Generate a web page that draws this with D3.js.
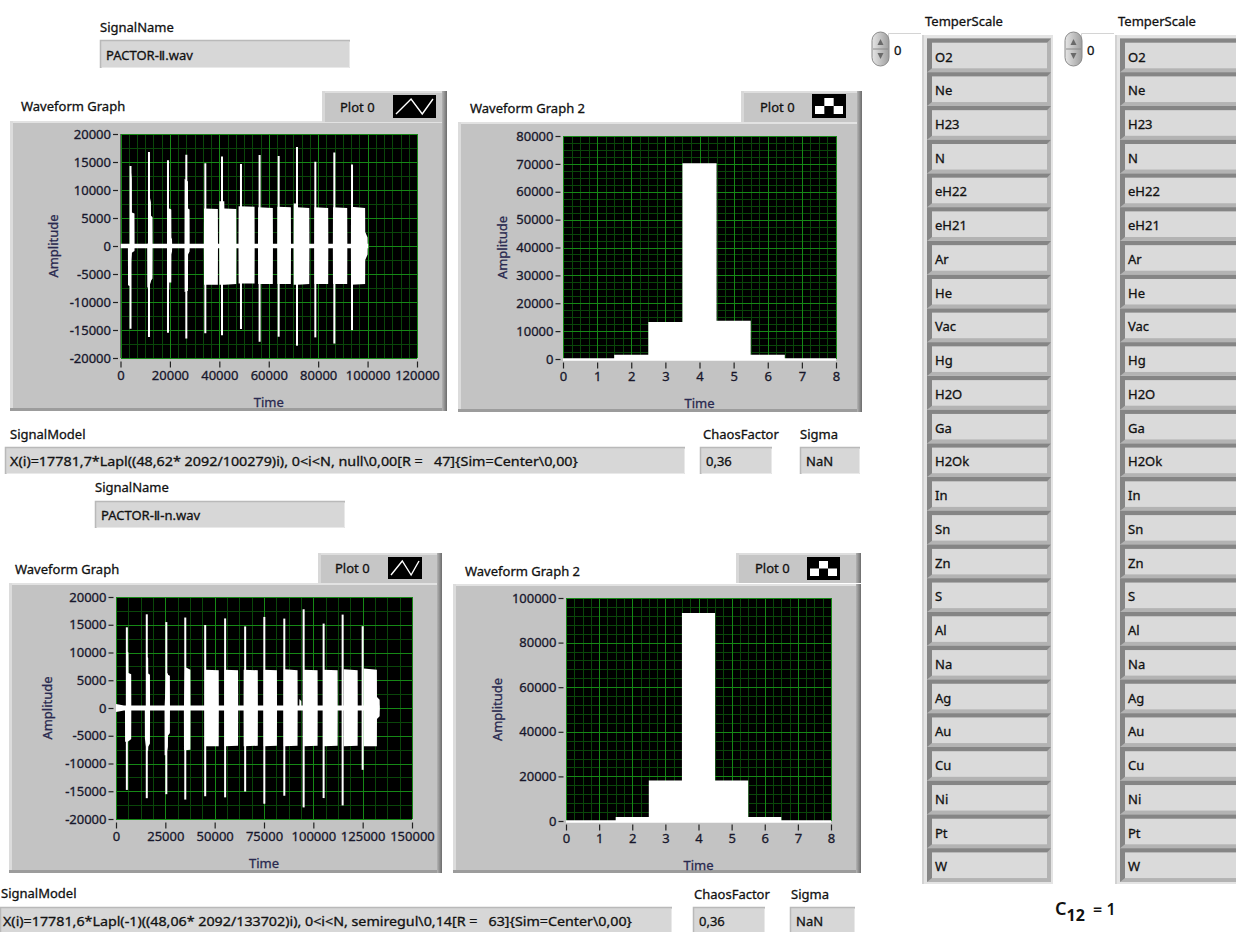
<!DOCTYPE html>
<html><head><meta charset="utf-8">
<script src="https://cdn.jsdelivr.net/npm/d3@7/dist/d3.min.js"></script>
<style>
html,body{margin:0;padding:0;background:#fff;overflow:hidden}
svg{display:block}
text{font-family:"Noto Sans","Open Sans","DejaVu Sans",sans-serif;}
text.ink{stroke:currentColor;stroke-width:0.3px;paint-order:stroke}
</style></head><body>
<svg id="panel" width="1236" height="932"></svg>
<script>
// ---------- panel values ----------
const signalNames = ["PACTOR-Ⅱ.wav", "PACTOR-Ⅱ-n.wav"];
const signalModels = [
  "X(i)=17781,7*Lapl((48,62* 2092/100279)i), 0<i<N, null\\0,00[R =   47]{Sim=Center\\0,00}",
  "X(i)=17781,6*Lapl(-1)((48,06* 2092/133702)i), 0<i<N, semiregul\\0,14[R =   63]{Sim=Center\\0,00}"
];
const chaosFactors = ["0,36", "0,36"];
const sigmas = ["NaN", "NaN"];
const temperScale = ["O2","Ne","H23","N","eH22","eH21","Ar","He","Vac","Hg","H2O","Ga","H2Ok",
  "In","Sn","Zn","S","Al","Na","Ag","Au","Cu","Ni","Pt","W"];
const scaleIndex = [0, 0];

// ---------- axis ticks ----------
const ampTicks = [-20000,-15000,-10000,-5000,0,5000,10000,15000,20000];
const wave1Ticks = [0,20000,40000,60000,80000,100000,120000];
const wave2Ticks = [0,25000,50000,75000,100000,125000,150000];
const histXTicks = [0,1,2,3,4,5,6,7,8];
const hist1YTicks = [0,10000,20000,30000,40000,50000,60000,70000,80000];
const hist2YTicks = [0,20000,40000,60000,80000,100000];

// ---------- waveform 1 (PACTOR-Ⅱ.wav, N = 100279) ----------
// burst onset spikes
const wave1SpikeT  = [4050, 11530, 19220, 26640, 34330, 41080, 48760, 56300, 64010, 71430, 78850, 86540, 93700];
const wave1SpikeHi = [14300, 16770, 15300, 16300, 14770, 16000, 14650, 16270, 16060, 17660, 15050, 16710, 14570];
const wave1SpikeLo = [-14780, -16230, -15500, -16520, -15560, -15930, -14800, -17100, -16200, -17800, -16320, -17420, -15020];
// envelope [time, upper, lower]
const wave1Env = [
  [0, 420, -420], [3000, 420, -420],
  [3050, 420, -7000], [3950, 420, -7200], [4000, 13000, -7200], [4300, 13000, -2500],
  [4550, 12000, -1500], [4600, 6000, -1200], [5650, 5800, -900], [5700, 420, -420],
  [10800, 420, -420],
  [10850, 420, -7400], [11450, 600, -7400], [11500, 9500, -7400], [12300, 7800, -6400],
  [12350, 5400, -6200], [12950, 5200, -5800], [13000, 420, -420],
  [18900, 420, -420],
  [18950, 6700, -8000], [19700, 6700, -7800], [19750, 6700, -6500], [20550, 6500, -6500],
  [20600, 1500, -1500], [20850, 1200, -1000], [20900, 420, -420],
  [25900, 420, -420],
  [25950, 12000, -8200], [27300, 11500, -8000], [27350, 6700, -1500], [27950, 6500, -1000], [28000, 420, -420],
  [33750, 420, -420], [33800, 6700, -6900], [39400, 6600, -6900], [39450, 420, -420],
  [39950, 420, -420], [40000, 8000, -6900], [42000, 8000, -6900], [42050, 6700, -6900], [46850, 6600, -6800], [46900, 420, -420],
  [47750, 420, -420], [47800, 7100, -6700], [54250, 7000, -6700], [54300, 420, -420],
  [55650, 420, -420], [55700, 6900, -6800], [61650, 6800, -6800], [61700, 420, -420],
  [63450, 420, -420], [63500, 7000, -6800], [68950, 6900, -6800], [69000, 420, -420],
  [70050, 420, -420], [70100, 7600, -6900], [71500, 7600, -6900], [71550, 6900, -6900], [76400, 6800, -6800], [76450, 420, -420],
  [78450, 420, -420], [78500, 6900, -6800], [84050, 6800, -6800], [84100, 420, -420],
  [85950, 420, -420], [86000, 6900, -6800], [91750, 6800, -6800], [91800, 420, -420],
  [93250, 420, -420], [93300, 7000, -6900], [99000, 6800, -6800], [99050, 2500, -2500],
  [100000, 1500, -1500], [100050, 420, -420], [100279, 420, -420]
];

// ---------- waveform 2 (PACTOR-Ⅱ-n.wav, N = 133702) ----------
const wave2SpikeT  = [5500, 15600, 25500, 35100, 45200, 55300, 65450, 75160, 85290, 95090, 105220, 114850, 124990];
const wave2SpikeHi = [14540, 16880, 15480, 16300, 14950, 16140, 14700, 16410, 16110, 17790, 15210, 16830, 14740];
const wave2SpikeLo = [-14760, -16250, -15530, -16500, -15900, -16100, -15050, -17250, -15810, -17910, -16230, -17550, -11140];
const wave2Env = [
  [0, 700, -700], [4000, 450, -450], [4550, 450, -450],
  [4600, 450, -6100], [5400, 450, -6100], [5450, 10200, -6100], [6300, 10000, -6000],
  [6350, 6300, -6000], [7700, 6100, -5600], [7750, 450, -450],
  [14600, 450, -450],
  [14650, 450, -5500], [15500, 450, -7800], [15550, 9300, -7800], [16300, 9000, -7600],
  [16350, 6200, -7000], [17200, 6000, -6400], [17250, 450, -450],
  [24600, 450, -450],
  [24650, 450, -8500], [25450, 6300, -8500], [26300, 6200, -7000], [26350, 6000, -5000],
  [27300, 5800, -4500], [27350, 450, -450],
  [34400, 450, -450],
  [34450, 450, -7500], [35000, 7400, -7600], [37700, 6900, -7500], [37750, 450, -450],
  [44950, 450, -450], [45000, 6900, -6900], [52050, 6800, -6900], [52100, 450, -450],
  [54950, 450, -450], [55000, 6900, -6900], [61850, 6800, -6800], [61900, 450, -450],
  [64650, 450, -450], [64700, 6900, -6900], [71850, 6800, -6800], [71900, 450, -450],
  [74800, 450, -450], [74850, 6900, -6900], [81550, 6800, -6800], [81600, 450, -450],
  [84950, 450, -450], [85000, 7000, -6900], [92000, 6800, -6800], [92050, 450, -450],
  [92900, 450, -450], [92950, 1600, -450], [93900, 1200, -450], [93950, 450, -450],
  [95050, 450, -450], [95100, 6900, -6900], [102150, 6800, -6800], [102200, 450, -450],
  [105200, 450, -450], [105250, 6900, -6900], [112300, 6800, -6800], [112350, 450, -450],
  [115350, 450, -450], [115400, 7000, -6900], [122450, 6800, -6800], [122500, 450, -450],
  [125450, 450, -450], [125500, 7100, -6900], [132200, 6900, -6900], [132250, 2000, -2000],
  [133600, 1500, -1500], [133650, 450, -450], [133702, 450, -450]
];

// ---------- amplitude histograms ----------
const histBins = [0, 1, 2, 3, 4, 5, 6, 7, 8];
const hist1Counts = [0, 0, 1550, 13250, 70200, 13730, 1550, 0, 0];
const hist2Counts = [0, 0, 1800, 18200, 93300, 18200, 1800, 0, 0];

// ---------- drawing ----------
const svg = d3.select("#panel");
const defs = svg.append("defs");
const gR = defs.append("linearGradient").attr("id", "edgeR").attr("x1", 0).attr("x2", 1).attr("y1", 0).attr("y2", 0);
gR.append("stop").attr("offset", 0).attr("stop-color", "#b4b4b4");
gR.append("stop").attr("offset", 1).attr("stop-color", "#6c6c6c");
const gK = defs.append("linearGradient").attr("id", "knob").attr("x1", 0).attr("x2", 1).attr("y1", 0).attr("y2", 0);
gK.append("stop").attr("offset", 0).attr("stop-color", "#e6e6e6");
gK.append("stop").attr("offset", 1).attr("stop-color", "#9e9e9e");

const LABEL = "#111";
const TICK = "#17172b";
const TITLE = "#29294f";
const GRID_MINOR = "#0a460a";
const GRID_MAJOR = "#168816";

function txt(x, y, s, o = {}) {
  return svg.append("text").attr("class", "ink").attr("x", x).attr("y", y)
    .attr("dominant-baseline", "central")
    .attr("font-size", o.size || 13)
    .style("color", o.fill || LABEL).attr("fill", o.fill || LABEL)
    .attr("text-anchor", o.anchor || "start")
    .style("white-space", "pre")
    .text(s);
}

function stringBox(x, y, w, h, s, o = {}) {
  const g = svg.append("g");
  g.append("rect").attr("x", x).attr("y", y).attr("width", w).attr("height", h).attr("fill", "#d7d7d7");
  g.append("path").attr("d", `M${x + 0.5},${y + h}V${y + 0.5}H${x + w}`)
    .attr("fill", "none").attr("stroke", "#b9b9b9").attr("stroke-width", 1.5);
  g.append("path").attr("d", `M${x + w - 0.5},${y + 2}V${y + h - 0.5}H${x + 2}`)
    .attr("fill", "none").attr("stroke", "#e9e9e9").attr("stroke-width", 1);
  const t = txt(x + (o.pad || 6), y + h / 2 + 0.5, s);
  if (o.len) t.attr("textLength", o.len).attr("lengthAdjust", "spacingAndGlyphs");
}

function minorValues(ticks, div) {
  const out = [];
  for (let i = 0; i < ticks.length - 1; i++) {
    const step = (ticks[i + 1] - ticks[i]) / div;
    for (let k = 1; k < div; k++) out.push(ticks[i] + k * step);
  }
  return out;
}

function legend(L, kind) {
  const g = svg.append("g");
  g.append("rect").attr("x", L.x).attr("y", L.y).attr("width", L.w).attr("height", L.h).attr("fill", "#c6c6c6");
  g.append("rect").attr("x", L.x).attr("y", L.y).attr("width", L.w).attr("height", 2).attr("fill", "#dedede");
  g.append("rect").attr("x", L.x).attr("y", L.y).attr("width", 3).attr("height", L.h).attr("fill", "#d8d8d8");
  g.append("rect").attr("x", L.x + L.w - 5).attr("y", L.y).attr("width", 5).attr("height", L.h).attr("fill", "url(#edgeR)");
  txt(L.tx, L.y + L.h / 2, "Plot 0");
  g.append("rect").attr("x", L.ix).attr("y", L.iy).attr("width", L.iw).attr("height", L.ih).attr("fill", "#000");
  const x0 = L.ix, y0 = L.iy, w = L.iw, h = L.ih;
  if (kind === "line") {
    g.append("path")
      .attr("d", `M${x0 + 3},${y0 + h - 4}L${x0 + w * 0.42},${y0 + 4}L${x0 + w * 0.68},${y0 + h - 4}L${x0 + w - 3},${y0 + 4}`)
      .attr("fill", "none").attr("stroke", "#fff").attr("stroke-width", 1.4);
  } else {
    const cw = (w - 6) / 3, top = y0 + 4, mid = y0 + h / 2, bot = y0 + h - 4;
    g.append("rect").attr("x", x0 + 3).attr("y", mid).attr("width", cw).attr("height", bot - mid).attr("fill", "#fff");
    g.append("rect").attr("x", x0 + 3 + cw).attr("y", top).attr("width", cw).attr("height", mid - top).attr("fill", "#fff");
    g.append("rect").attr("x", x0 + 3 + 2 * cw).attr("y", mid).attr("width", cw).attr("height", bot - mid).attr("fill", "#fff");
  }
}

let clipId = 0;
function drawGraph(o) {
  const f = o.frame, p = o.plot;
  const g = svg.append("g");
  g.append("rect").attr("x", f.x).attr("y", f.y).attr("width", f.w).attr("height", f.h).attr("fill", "#c3c3c3");
  g.append("rect").attr("x", f.x).attr("y", f.y).attr("width", f.w).attr("height", 2).attr("fill", "#e2e2e2");
  g.append("rect").attr("x", f.x).attr("y", f.y).attr("width", 3).attr("height", f.h).attr("fill", "#dcdcdc");
  g.append("rect").attr("x", f.x + f.w - 5).attr("y", f.y).attr("width", 5).attr("height", f.h).attr("fill", "url(#edgeR)");
  g.append("rect").attr("x", f.x).attr("y", f.y + f.h - 3).attr("width", f.w - 5).attr("height", 3).attr("fill", "#9c9c9c");

  txt(o.titlePos[0], o.titlePos[1], o.title);
  legend(o.legend, o.kind === "wave" ? "line" : "step");

  const x = d3.scaleLinear().domain(o.xDomain).range([p.x, p.x + p.w]);
  const y = d3.scaleLinear().domain(o.yDomain).range([p.y + p.h, p.y]);

  g.append("rect").attr("x", p.x).attr("y", p.y).attr("width", p.w).attr("height", p.h).attr("fill", "#000");

  const grid = g.append("g").attr("shape-rendering", "crispEdges");
  const vline = (v, c) => grid.append("line").attr("x1", Math.round(x(v)) + 0.5).attr("x2", Math.round(x(v)) + 0.5)
    .attr("y1", p.y).attr("y2", p.y + p.h).attr("stroke", c);
  const hline = (v, c) => grid.append("line").attr("y1", Math.round(y(v)) + 0.5).attr("y2", Math.round(y(v)) + 0.5)
    .attr("x1", p.x).attr("x2", p.x + p.w).attr("stroke", c);
  minorValues(o.xTicks, o.xMinor).forEach(v => vline(v, GRID_MINOR));
  minorValues(o.yTicks, o.yMinor).forEach(v => hline(v, GRID_MINOR));
  o.xTicks.forEach(v => vline(v, GRID_MAJOR));
  o.yTicks.forEach(v => hline(v, GRID_MAJOR));

  const cid = "plotclip" + (clipId++);
  defs.append("clipPath").attr("id", cid).append("rect")
    .attr("x", p.x).attr("y", p.y - 1).attr("width", p.w).attr("height", p.h + 3);
  const dg = g.append("g").attr("clip-path", `url(#${cid})`);
  o.draw(dg, x, y);

  const fmt = d => String(d);
  const ya = g.append("g").attr("transform", `translate(${p.x - 2.5},0)`)
    .call(d3.axisLeft(y).tickValues(o.yTicks).tickSizeInner(5).tickSizeOuter(0).tickPadding(2).tickFormat(fmt));
  const xa = g.append("g").attr("transform", `translate(0,${p.y + p.h + 3.5})`)
    .call(d3.axisBottom(x).tickValues(o.xTicks).tickSizeInner(6).tickSizeOuter(0).tickPadding(3).tickFormat(fmt));
  [ya, xa].forEach(a => {
    a.select(".domain").remove();
    a.attr("font-family", null).attr("font-size", 13);
    a.selectAll("line").attr("stroke", "#222").attr("stroke-width", 1.2);
    a.selectAll("text").attr("class", "ink").attr("fill", TICK).style("color", TICK).attr("font-size", 13);
  });

  svg.append("text").attr("class", "ink").style("color", TITLE)
    .attr("transform", `translate(${o.ampX},${p.y + p.h / 2}) rotate(-90)`)
    .attr("text-anchor", "middle").attr("dominant-baseline", "central")
    .attr("font-size", 13).attr("fill", TITLE).text("Amplitude");
  svg.append("text").attr("class", "ink").style("color", TITLE)
    .attr("x", p.x + p.w / 2).attr("y", o.timeY)
    .attr("text-anchor", "middle").attr("dominant-baseline", "central")
    .attr("font-size", 13).attr("fill", TITLE).text("Time");
}

function waveDraw(env, sT, sHi, sLo) {
  return (g, x, y) => {
    g.append("path").datum(env)
      .attr("d", d3.area().x(d => x(d[0])).y0(d => y(d[2])).y1(d => y(d[1])))
      .attr("fill", "#fff");
    g.selectAll("line.spike").data(sT).join("line").attr("class", "spike")
      .attr("x1", d => x(d)).attr("x2", d => x(d))
      .attr("y1", (d, i) => y(sHi[i])).attr("y2", (d, i) => y(sLo[i]))
      .attr("stroke", "#fff").attr("stroke-width", 2);
  };
}

function histDraw(counts) {
  return (g, x, y) => {
    g.append("path").datum(counts)
      .attr("d", d3.area().curve(d3.curveStep).x((d, i) => x(histBins[i])).y0(y(0)).y1(d => y(d)))
      .attr("fill", "#fff");
    g.append("line").attr("x1", x(histBins[0])).attr("x2", x(histBins[histBins.length - 1]))
      .attr("y1", y(0) + 0.5).attr("y2", y(0) + 0.5).attr("stroke", "#fff").attr("stroke-width", 2.5);
  };
}

// ----- upper signal block -----
txt(100, 26.5, "SignalName");
stringBox(100, 40, 250, 28, signalNames[0]);

drawGraph({
  frame: {x: 10, y: 121, w: 437, h: 290}, plot: {x: 120.5, y: 134, w: 296.5, h: 224},
  title: "Waveform Graph", titlePos: [21, 106],
  legend: {x: 322, y: 91, w: 125, h: 31, tx: 340, ix: 393, iy: 95, iw: 43, ih: 23},
  kind: "wave", xDomain: [0, 120000], yDomain: [-20000, 20000],
  xTicks: wave1Ticks, yTicks: ampTicks, xMinor: 6, yMinor: 2,
  ampX: 52.5, timeY: 401.5,
  draw: waveDraw(wave1Env, wave1SpikeT, wave1SpikeHi, wave1SpikeLo)
});

drawGraph({
  frame: {x: 458, y: 122, w: 404, h: 290}, plot: {x: 563, y: 136, w: 273, h: 223},
  title: "Waveform Graph 2", titlePos: [470, 108],
  legend: {x: 741, y: 91, w: 121, h: 31, tx: 760, ix: 812, iy: 94, iw: 34, ih: 24},
  kind: "hist", xDomain: [0, 8], yDomain: [0, 80000],
  xTicks: histXTicks, yTicks: hist1YTicks, xMinor: 4, yMinor: 4,
  ampX: 501.5, timeY: 403,
  draw: histDraw(hist1Counts)
});

txt(10, 434, "SignalModel");
stringBox(5, 447, 680, 27, signalModels[0], {pad: 5, len: 568});
txt(703, 434, "ChaosFactor");
stringBox(700, 447, 72, 27, chaosFactors[0]);
txt(800, 434, "Sigma");
stringBox(800, 447, 60, 27, sigmas[0]);

// ----- lower signal block -----
txt(95, 487, "SignalName");
stringBox(95, 501, 250, 27, signalNames[1]);

drawGraph({
  frame: {x: 9, y: 583, w: 433, h: 290}, plot: {x: 116, y: 597, w: 296, h: 222},
  title: "Waveform Graph", titlePos: [15, 569],
  legend: {x: 318, y: 553, w: 124, h: 30, tx: 335, ix: 388, iy: 557, iw: 34, ih: 22},
  kind: "wave", xDomain: [0, 150000], yDomain: [-20000, 20000],
  xTicks: wave2Ticks, yTicks: ampTicks, xMinor: 4, yMinor: 2,
  ampX: 46.5, timeY: 863,
  draw: waveDraw(wave2Env, wave2SpikeT, wave2SpikeHi, wave2SpikeLo)
});

drawGraph({
  frame: {x: 453, y: 584, w: 408, h: 289}, plot: {x: 566, y: 598, w: 265, h: 223},
  title: "Waveform Graph 2", titlePos: [465, 571],
  legend: {x: 736, y: 553, w: 125, h: 30, tx: 755, ix: 807, iy: 557, iw: 33, ih: 23},
  kind: "hist", xDomain: [0, 8], yDomain: [0, 100000],
  xTicks: histXTicks, yTicks: hist2YTicks, xMinor: 4, yMinor: 5,
  ampX: 496.5, timeY: 865,
  draw: histDraw(hist2Counts)
});

txt(1, 893, "SignalModel");
stringBox(0, 907, 672, 27, signalModels[1], {pad: 3, len: 629});
txt(694, 894, "ChaosFactor");
stringBox(693, 907, 72, 27, chaosFactors[1]);
txt(791, 894, "Sigma");
stringBox(790, 907, 65, 27, sigmas[1]);

// ----- TemperScale arrays -----
function temperArray(dx, idx) {
  const g = svg.append("g").attr("transform", `translate(${dx},0)`);
  g.append("text").attr("class", "ink").style("color", LABEL)
    .attr("x", 925).attr("y", 20.5).attr("dominant-baseline", "central")
    .attr("font-size", 13).attr("fill", LABEL).text("TemperScale");
  // index control
  g.append("rect").attr("x", 888).attr("y", 33).attr("width", 33).attr("height", 28).attr("fill", "#fff");
  g.append("path").attr("d", "M888.5,61V33.5H921").attr("fill", "none").attr("stroke", "#d4d4d4");
  g.append("rect").attr("x", 872).attr("y", 32).attr("width", 17).attr("height", 34).attr("rx", 8.5)
    .attr("fill", "url(#knob)").attr("stroke", "#8a8a8a");
  g.append("line").attr("x1", 873).attr("x2", 888).attr("y1", 49).attr("y2", 49).attr("stroke", "#8a8a8a");
  g.append("path").attr("d", "M877.5,45L880.5,39L883.5,45Z").attr("fill", "#6a6a6a");
  g.append("path").attr("d", "M877.5,53L880.5,59L883.5,53Z").attr("fill", "#6a6a6a");
  g.append("text").attr("class", "ink").style("color", LABEL)
    .attr("x", 894).attr("y", 50).attr("dominant-baseline", "central")
    .attr("font-size", 13).attr("fill", LABEL).text(String(idx));
  // array frame
  g.append("rect").attr("x", 922).attr("y", 35).attr("width", 131).attr("height", 849).attr("fill", "#e4e4e4");
  g.append("rect").attr("x", 922).attr("y", 35).attr("width", 2).attr("height", 849).attr("fill", "#d2d2d2");
  const pitch = 33.74, top0 = 38.5;
  temperScale.forEach((name, i) => {
    const t = top0 + i * pitch;
    g.append("rect").attr("x", 927).attr("y", t).attr("width", 124).attr("height", pitch).attr("fill", "#b3b3b3");
    g.append("path").attr("d", `M927,${t}H1051L1047,${t + 4.3}H932V${t + 29.8}L927,${t + pitch}Z`).attr("fill", "#858585");
    g.append("rect").attr("x", 932).attr("y", t + 4.3).attr("width", 115).attr("height", 25.5).attr("fill", "#dadada");
    g.append("text").attr("class", "ink").style("color", LABEL)
      .attr("x", 935).attr("y", t + 18).attr("dominant-baseline", "central")
      .attr("font-size", 13).attr("fill", LABEL).text(name);
  });
}
temperArray(0, scaleIndex[0]);
temperArray(193, scaleIndex[1]);

// coupling constant
const c = svg.append("text").attr("x", 1055).attr("y", 915).attr("fill", "#111");
c.append("tspan").attr("font-size", 18).attr("font-weight", 600).text("C");
c.append("tspan").attr("font-size", 16).attr("font-weight", 700).attr("dy", 6).text("12");
c.append("tspan").attr("font-size", 16).attr("font-weight", 600).attr("dy", -6).style("white-space", "pre").text("  = 1");
</script></body></html>
